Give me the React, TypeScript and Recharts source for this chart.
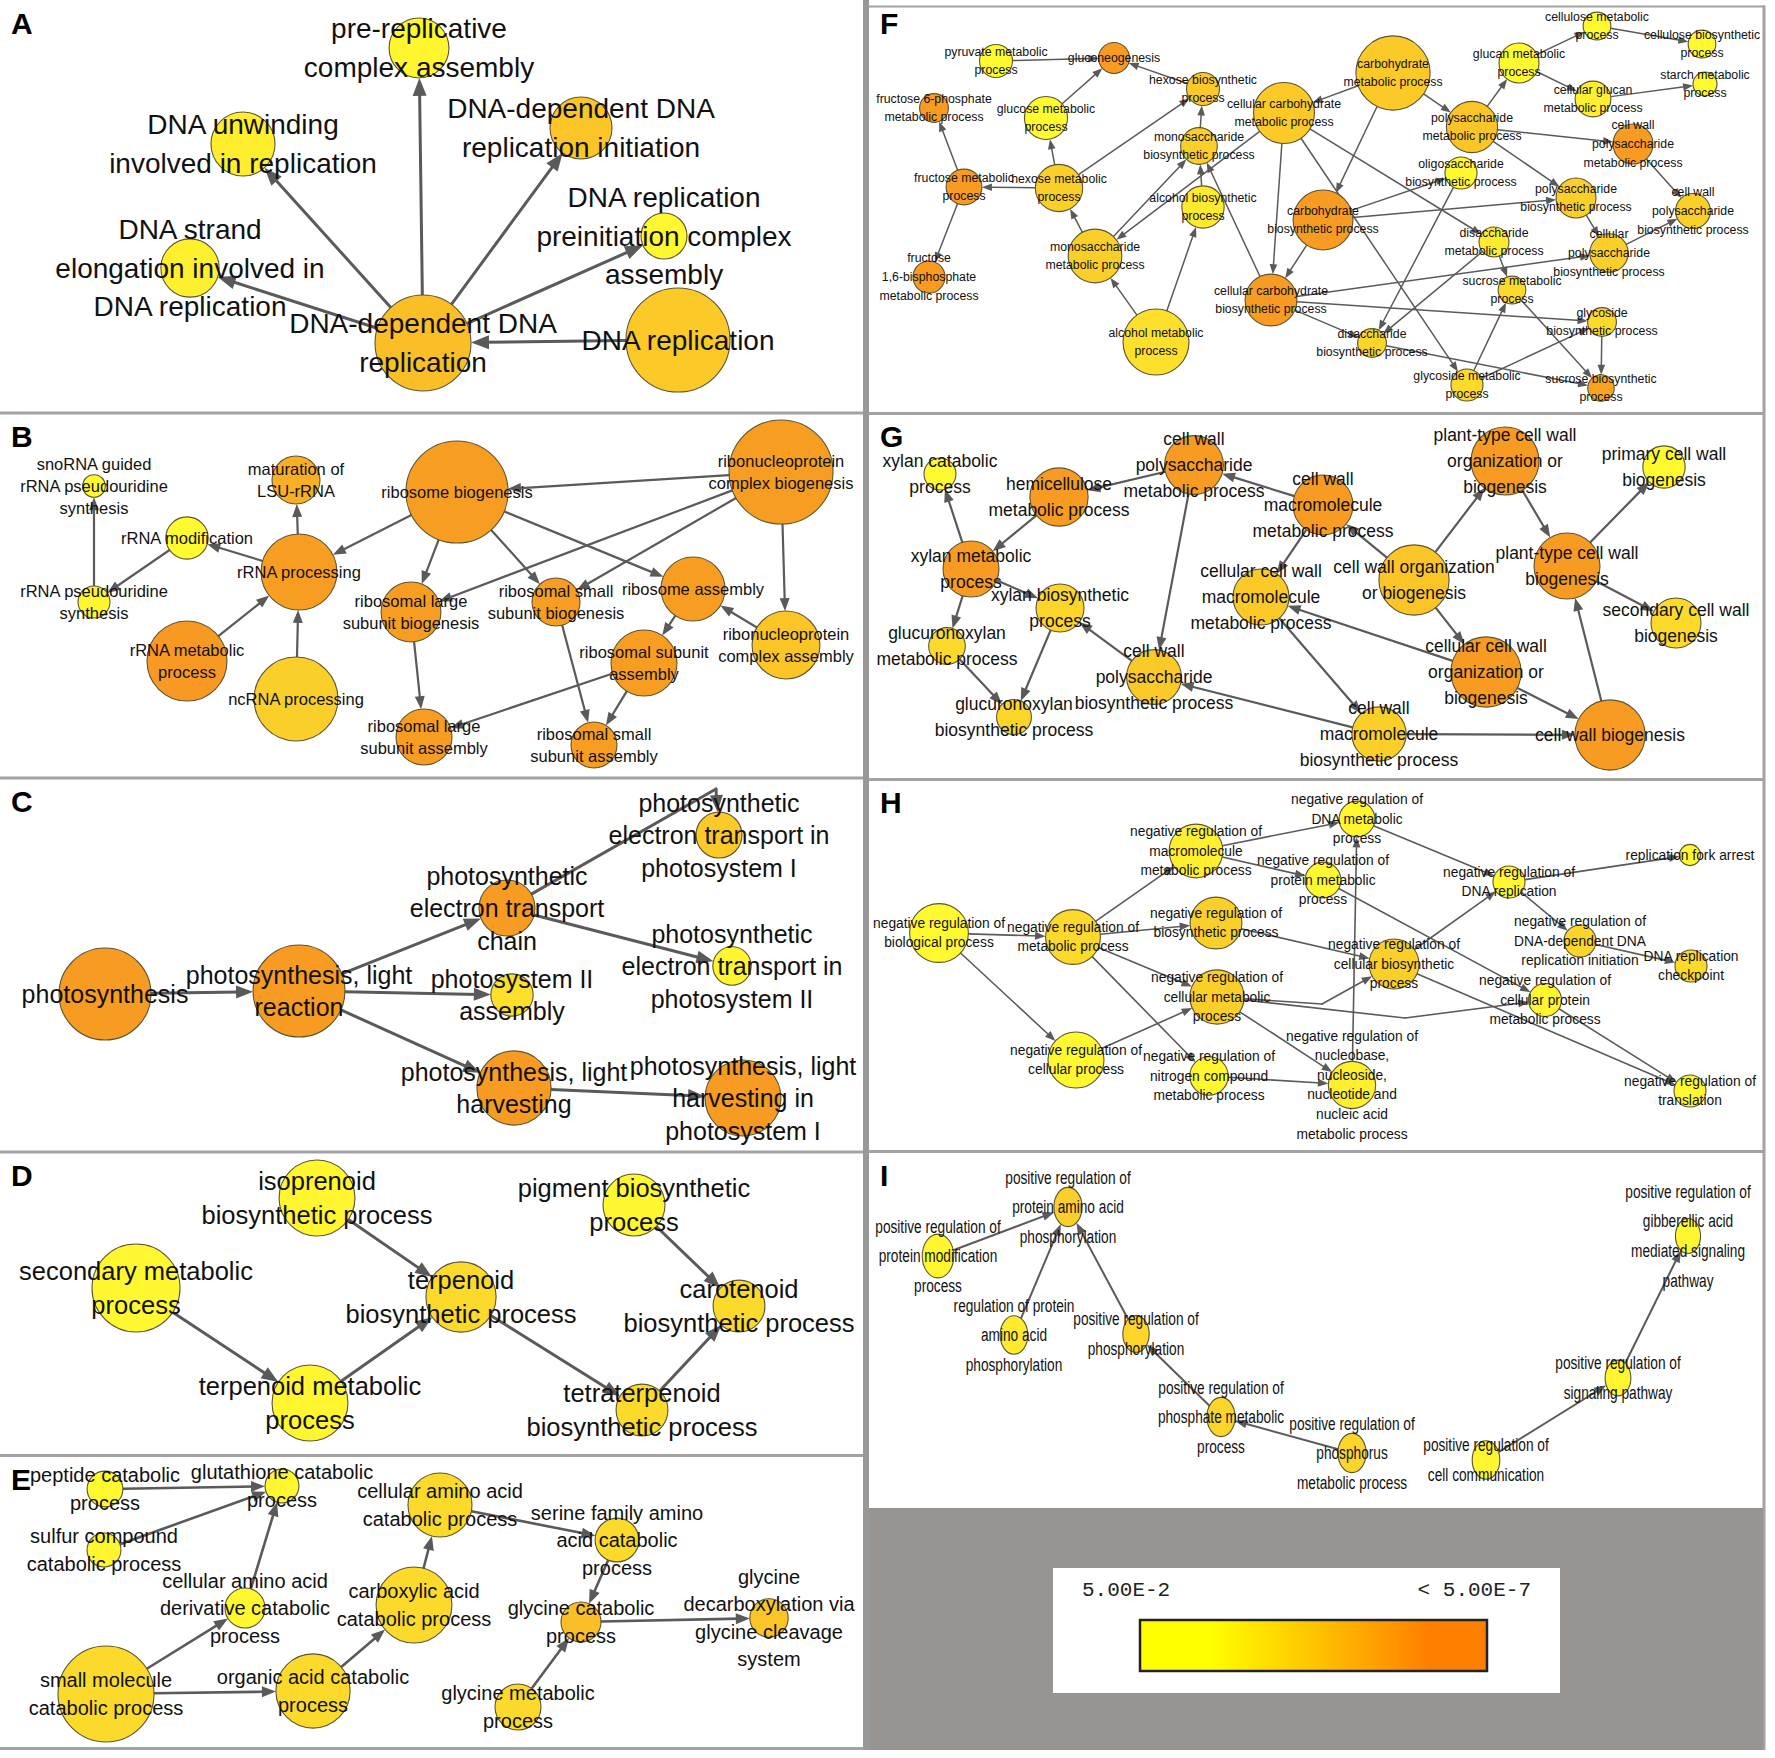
import React from 'react';
import { ScatterChart, Scatter, XAxis, YAxis, ReferenceLine, ReferenceArea } from 'recharts';

type GoTerm = { id: string; label: string; x: number; y: number; genes: number; logP: number };
type Link = [string, string] | [string, string, number, number];

// A: DNA replication
const panelANodes: GoTerm[] = [
  { id: 'a1', label: 'pre-replicative|complex assembly', x: 419, y: 48, genes: 56, logP: 1.55 },
  { id: 'a2', label: 'DNA unwinding|involved in replication', x: 243, y: 144, genes: 64, logP: 1.9 },
  { id: 'a3', label: 'DNA-dependent DNA|replication initiation', x: 581, y: 128, genes: 60, logP: 3.8 },
  { id: 'a4', label: 'DNA replication|preinitiation complex|assembly', x: 664, y: 236, genes: 33, logP: 1.45 },
  { id: 'a5', label: 'DNA strand|elongation involved in|DNA replication', x: 190, y: 268, genes: 53, logP: 1.8 },
  { id: 'a6', label: 'DNA-dependent DNA|replication', x: 423, y: 343, genes: 144, logP: 4.05 },
  { id: 'a7', label: 'DNA replication', x: 678, y: 340, genes: 169, logP: 3.55 },
];
const panelALinks: Link[] = [['a6', 'a1'], ['a6', 'a2'], ['a6', 'a3'], ['a6', 'a4'], ['a6', 'a5'], ['a7', 'a6']];

// B: ribosome biogenesis
const panelBNodes: GoTerm[] = [
  { id: 'b1', label: 'snoRNA guided|rRNA pseudouridine|synthesis', x: 94, y: 486, genes: 8, logP: 1.3 },
  { id: 'b2', label: 'maturation of|LSU-rRNA', x: 296, y: 480, genes: 36, logP: 4.8 },
  { id: 'b3', label: 'ribosome biogenesis', x: 457, y: 492, genes: 163, logP: 5.55 },
  { id: 'b4', label: 'ribonucleoprotein|complex biogenesis', x: 781, y: 472, genes: 169, logP: 5.55 },
  { id: 'b5', label: 'rRNA modification', x: 187, y: 538, genes: 28, logP: 1.3 },
  { id: 'b6', label: 'rRNA processing', x: 299, y: 572, genes: 90, logP: 5.55 },
  { id: 'b7', label: 'rRNA pseudouridine|synthesis', x: 94, y: 602, genes: 16, logP: 1.55 },
  { id: 'b8', label: 'rRNA metabolic|process', x: 187, y: 661, genes: 100, logP: 5.8 },
  { id: 'b9', label: 'ncRNA processing', x: 296, y: 699, genes: 110, logP: 3.3 },
  { id: 'b10', label: 'ribosomal large|subunit biogenesis', x: 411, y: 612, genes: 56, logP: 5.55 },
  { id: 'b11', label: 'ribosomal small|subunit biogenesis', x: 556, y: 602, genes: 36, logP: 5.55 },
  { id: 'b12', label: 'ribosome assembly', x: 693, y: 589, genes: 64, logP: 5.55 },
  { id: 'b13', label: 'ribonucleoprotein|complex assembly', x: 786, y: 645, genes: 72, logP: 3.8 },
  { id: 'b14', label: 'ribosomal subunit|assembly', x: 644, y: 663, genes: 68, logP: 5.55 },
  { id: 'b15', label: 'ribosomal large|subunit assembly', x: 424, y: 737, genes: 49, logP: 5.55 },
  { id: 'b16', label: 'ribosomal small|subunit assembly', x: 594, y: 745, genes: 33, logP: 5.55 },
];
const panelBLinks: Link[] = [
  ['b7', 'b1'], ['b5', 'b7'], ['b6', 'b5'], ['b6', 'b2'], ['b3', 'b6'], ['b4', 'b3'], ['b8', 'b6'], ['b9', 'b6'],
  ['b3', 'b10'], ['b3', 'b11'], ['b3', 'b12'], ['b4', 'b10'], ['b4', 'b11'], ['b4', 'b13'], ['b13', 'b12'],
  ['b12', 'b14'], ['b10', 'b15'], ['b14', 'b15'], ['b11', 'b16'], ['b14', 'b16'],
];

// C: photosynthesis
const panelCNodes: GoTerm[] = [
  { id: 'c1', label: 'photosynthesis', x: 105, y: 994, genes: 132, logP: 5.7 },
  { id: 'c2', label: 'photosynthesis, light|reaction', x: 299, y: 991, genes: 132, logP: 5.7 },
  { id: 'c3', label: 'photosynthetic|electron transport|chain', x: 507, y: 908, genes: 49, logP: 5.7 },
  { id: 'c4', label: 'photosynthetic|electron transport in|photosystem I', x: 719, y: 835, genes: 33, logP: 3.55 },
  { id: 'c5', label: 'photosynthetic|electron transport in|photosystem II', x: 732, y: 966, genes: 23, logP: 1.55 },
  { id: 'c6', label: 'photosystem II|assembly', x: 512, y: 995, genes: 28, logP: 2.55 },
  { id: 'c7', label: 'photosynthesis, light|harvesting', x: 514, y: 1088, genes: 86, logP: 5.7 },
  { id: 'c8', label: 'photosynthesis, light|harvesting in|photosystem I', x: 743, y: 1098, genes: 90, logP: 5.7 },
];
const panelCLinks: Link[] = [
  ['c1', 'c2'], ['c2', 'c3'], ['c2', 'c6'], ['c2', 'c7'], ['c3', 'c4', 716, 789], ['c3', 'c5'], ['c7', 'c8'],
];

// D: terpenoid biosynthesis
const panelDNodes: GoTerm[] = [
  { id: 'd1', label: 'isoprenoid|biosynthetic process', x: 317, y: 1198, genes: 90, logP: 1.55 },
  { id: 'd2', label: 'pigment biosynthetic|process', x: 634, y: 1205, genes: 60, logP: 1.45 },
  { id: 'd3', label: 'secondary metabolic|process', x: 136, y: 1288, genes: 121, logP: 1.45 },
  { id: 'd4', label: 'terpenoid|biosynthetic process', x: 461, y: 1297, genes: 77, logP: 2.8 },
  { id: 'd5', label: 'carotenoid|biosynthetic process', x: 739, y: 1306, genes: 42, logP: 2.8 },
  { id: 'd6', label: 'terpenoid metabolic|process', x: 310, y: 1403, genes: 90, logP: 1.55 },
  { id: 'd7', label: 'tetraterpenoid|biosynthetic process', x: 642, y: 1410, genes: 42, logP: 2.8 },
];
const panelDLinks: Link[] = [['d1', 'd4'], ['d3', 'd6'], ['d6', 'd4'], ['d4', 'd7'], ['d7', 'd5'], ['d2', 'd5']];

// E: catabolic processes
const panelENodes: GoTerm[] = [
  { id: 'e1', label: 'peptide catabolic|process', x: 105, y: 1489, genes: 20, logP: 1.4 },
  { id: 'e2', label: 'glutathione catabolic|process', x: 282, y: 1486, genes: 18, logP: 1.55 },
  { id: 'e3', label: 'sulfur compound|catabolic process', x: 104, y: 1550, genes: 18, logP: 1.55 },
  { id: 'e4', label: 'cellular amino acid|derivative catabolic|process', x: 245, y: 1608, genes: 25, logP: 1.45 },
  { id: 'e5', label: 'small molecule|catabolic process', x: 106, y: 1694, genes: 144, logP: 2.8 },
  { id: 'e6', label: 'organic acid catabolic|process', x: 313, y: 1691, genes: 86, logP: 2.8 },
  { id: 'e7', label: 'carboxylic acid|catabolic process', x: 414, y: 1605, genes: 90, logP: 2.8 },
  { id: 'e8', label: 'cellular amino acid|catabolic process', x: 440, y: 1505, genes: 64, logP: 2.8 },
  { id: 'e9', label: 'serine family amino|acid catabolic|process', x: 617, y: 1540, genes: 30, logP: 2.8 },
  { id: 'e10', label: 'glycine catabolic|process', x: 581, y: 1622, genes: 25, logP: 4.05 },
  { id: 'e11', label: 'glycine|decarboxylation via|glycine cleavage|system', x: 769, y: 1618, genes: 23, logP: 3.8 },
  { id: 'e12', label: 'glycine metabolic|process', x: 518, y: 1707, genes: 33, logP: 2.8 },
];
const panelELinks: Link[] = [
  ['e1', 'e2'], ['e3', 'e2'], ['e4', 'e2'], ['e5', 'e4'], ['e5', 'e6'], ['e6', 'e7'], ['e7', 'e8'],
  ['e8', 'e9'], ['e9', 'e10'], ['e12', 'e10'], ['e10', 'e11'],
];

// F: carbohydrate metabolism
const panelFNodes: GoTerm[] = [
  { id: 'f1', label: 'pyruvate metabolic|process', x: 996, y: 61, genes: 17, logP: 1.3 },
  { id: 'f2', label: 'gluconeogenesis', x: 1114, y: 58, genes: 15, logP: 5.7 },
  { id: 'f3', label: 'fructose 6-phosphate|metabolic process', x: 934, y: 108, genes: 13, logP: 5.7 },
  { id: 'f4', label: 'glucose metabolic|process', x: 1046, y: 118, genes: 29, logP: 1.4 },
  { id: 'f5', label: 'hexose biosynthetic|process', x: 1203, y: 89, genes: 17, logP: 3.55 },
  { id: 'f6', label: 'cellular carbohydrate|metabolic process', x: 1284, y: 113, genes: 58, logP: 3.55 },
  { id: 'f7', label: 'monosaccharide|biosynthetic process', x: 1199, y: 146, genes: 21, logP: 3.3 },
  { id: 'f8', label: 'fructose metabolic|process', x: 964, y: 187, genes: 20, logP: 5.7 },
  { id: 'f9', label: 'hexose metabolic|process', x: 1059, y: 188, genes: 35, logP: 3.3 },
  { id: 'f10', label: 'alcohol biosynthetic|process', x: 1203, y: 207, genes: 28, logP: 2.05 },
  { id: 'f11', label: 'monosaccharide|metabolic process', x: 1095, y: 256, genes: 45, logP: 3.3 },
  { id: 'f12', label: 'fructose|1,6-bisphosphate|metabolic process', x: 929, y: 277, genes: 16, logP: 5.7 },
  { id: 'f13', label: 'alcohol metabolic|process', x: 1156, y: 342, genes: 68, logP: 2.55 },
  { id: 'f14', label: 'cellular carbohydrate|biosynthetic process', x: 1271, y: 300, genes: 42, logP: 5.7 },
  { id: 'f15', label: 'carbohydrate|metabolic process', x: 1393, y: 73, genes: 86, logP: 3.55 },
  { id: 'f16', label: 'carbohydrate|biosynthetic process', x: 1323, y: 220, genes: 56, logP: 5.7 },
  { id: 'f17', label: 'glucan metabolic|process', x: 1519, y: 63, genes: 25, logP: 1.4 },
  { id: 'f18', label: 'cellulose metabolic|process', x: 1597, y: 26, genes: 12, logP: 1.4 },
  { id: 'f19', label: 'cellulose biosynthetic|process', x: 1702, y: 44, genes: 12, logP: 1.4 },
  { id: 'f20', label: 'starch metabolic|process', x: 1705, y: 84, genes: 9, logP: 1.4 },
  { id: 'f21', label: 'cellular glucan|metabolic process', x: 1593, y: 99, genes: 20, logP: 1.8 },
  { id: 'f22', label: 'polysaccharide|metabolic process', x: 1472, y: 127, genes: 41, logP: 3.8 },
  { id: 'f23', label: 'cell wall|polysaccharide|metabolic process', x: 1633, y: 144, genes: 25, logP: 5.7 },
  { id: 'f24', label: 'oligosaccharide|biosynthetic process', x: 1461, y: 173, genes: 16, logP: 1.4 },
  { id: 'f25', label: 'polysaccharide|biosynthetic process', x: 1576, y: 198, genes: 25, logP: 3.3 },
  { id: 'f26', label: 'cell wall|polysaccharide|biosynthetic process', x: 1693, y: 211, genes: 19, logP: 3.3 },
  { id: 'f27', label: 'disaccharide|metabolic process', x: 1494, y: 242, genes: 14, logP: 2.05 },
  { id: 'f28', label: 'cellular|polysaccharide|biosynthetic process', x: 1609, y: 253, genes: 23, logP: 3.3 },
  { id: 'f29', label: 'sucrose metabolic|process', x: 1512, y: 290, genes: 12, logP: 2.8 },
  { id: 'f30', label: 'glycoside|biosynthetic process', x: 1602, y: 322, genes: 13, logP: 2.8 },
  { id: 'f31', label: 'disaccharide|biosynthetic process', x: 1372, y: 343, genes: 13, logP: 3.05 },
  { id: 'f32', label: 'glycoside metabolic|process', x: 1467, y: 385, genes: 16, logP: 2.8 },
  { id: 'f33', label: 'sucrose biosynthetic|process', x: 1601, y: 388, genes: 11, logP: 5.3 },
];
const panelFLinks: Link[] = [
  ['f1', 'f2'], ['f4', 'f2'], ['f5', 'f2'], ['f8', 'f3'], ['f9', 'f8'], ['f8', 'f12'], ['f9', 'f4'], ['f9', 'f5'],
  ['f7', 'f5'], ['f11', 'f9'], ['f11', 'f7'], ['f10', 'f7'], ['f6', 'f11'], ['f13', 'f11'], ['f13', 'f10'],
  ['f14', 'f7'], ['f6', 'f14'], ['f16', 'f14'], ['f15', 'f6'], ['f15', 'f16'], ['f15', 'f22'], ['f6', 'f27'],
  ['f6', 'f32'], ['f22', 'f17'], ['f17', 'f18'], ['f18', 'f19'], ['f17', 'f21'], ['f21', 'f20'], ['f22', 'f23'],
  ['f22', 'f25'], ['f23', 'f26'], ['f25', 'f28'], ['f28', 'f26'], ['f16', 'f24'], ['f16', 'f25'], ['f14', 'f28'],
  ['f14', 'f30'], ['f14', 'f31'], ['f24', 'f31'], ['f27', 'f31'], ['f27', 'f29'], ['f32', 'f29'], ['f32', 'f30'],
  ['f29', 'f33'], ['f30', 'f33'], ['f31', 'f33'],
];

// G: cell wall
const panelGNodes: GoTerm[] = [
  { id: 'g1', label: 'xylan catabolic|process', x: 940, y: 474, genes: 16, logP: 1.4 },
  { id: 'g2', label: 'cell wall|polysaccharide|metabolic process', x: 1194, y: 465, genes: 54, logP: 5.7 },
  { id: 'g3', label: 'hemicellulose|metabolic process', x: 1059, y: 497, genes: 53, logP: 5.7 },
  { id: 'g4', label: 'cell wall|macromolecule|metabolic process', x: 1323, y: 505, genes: 56, logP: 5.7 },
  { id: 'g5', label: 'plant-type cell wall|organization or|biogenesis', x: 1505, y: 461, genes: 72, logP: 5.7 },
  { id: 'g6', label: 'primary cell wall|biogenesis', x: 1664, y: 467, genes: 28, logP: 1.4 },
  { id: 'g7', label: 'xylan metabolic|process', x: 971, y: 569, genes: 49, logP: 5.7 },
  { id: 'g8', label: 'cellular cell wall|macromolecule|metabolic process', x: 1261, y: 597, genes: 49, logP: 3.55 },
  { id: 'g9', label: 'cell wall organization|or biogenesis', x: 1414, y: 580, genes: 77, logP: 3.8 },
  { id: 'g10', label: 'plant-type cell wall|biogenesis', x: 1567, y: 566, genes: 68, logP: 5.7 },
  { id: 'g11', label: 'xylan biosynthetic|process', x: 1060, y: 608, genes: 36, logP: 3.05 },
  { id: 'g12', label: 'secondary cell wall|biogenesis', x: 1676, y: 623, genes: 39, logP: 2.8 },
  { id: 'g13', label: 'glucuronoxylan|metabolic process', x: 947, y: 646, genes: 21, logP: 2.8 },
  { id: 'g14', label: 'cell wall|polysaccharide|biosynthetic process', x: 1154, y: 677, genes: 47, logP: 3.55 },
  { id: 'g15', label: 'cellular cell wall|organization or|biogenesis', x: 1486, y: 672, genes: 77, logP: 5.7 },
  { id: 'g16', label: 'glucuronoxylan|biosynthetic process', x: 1014, y: 717, genes: 19, logP: 3.05 },
  { id: 'g17', label: 'cell wall|macromolecule|biosynthetic process', x: 1379, y: 734, genes: 46, logP: 3.3 },
  { id: 'g18', label: 'cell wall biogenesis', x: 1610, y: 735, genes: 77, logP: 5.7 },
];
const panelGLinks: Link[] = [
  ['g7', 'g1'], ['g3', 'g7'], ['g2', 'g3'], ['g4', 'g2'], ['g2', 'g14'], ['g4', 'g8'], ['g9', 'g4'], ['g9', 'g5'],
  ['g5', 'g10'], ['g10', 'g6'], ['g10', 'g12'], ['g9', 'g15'], ['g15', 'g8'], ['g15', 'g18'], ['g18', 'g10'],
  ['g17', 'g18'], ['g8', 'g17'], ['g17', 'g14'], ['g14', 'g11'], ['g7', 'g11'], ['g7', 'g13'], ['g13', 'g16'],
  ['g11', 'g16'],
];

// H: negative regulation
const panelHNodes: GoTerm[] = [
  { id: 'h1', label: 'negative regulation of|biological process', x: 939, y: 933, genes: 54, logP: 1.4 },
  { id: 'h2', label: 'negative regulation of|metabolic process', x: 1073, y: 937, genes: 47, logP: 2.8 },
  { id: 'h3', label: 'negative regulation of|macromolecule|metabolic process', x: 1196, y: 851, genes: 45, logP: 1.8 },
  { id: 'h4', label: 'negative regulation of|biosynthetic process', x: 1216, y: 923, genes: 42, logP: 3.3 },
  { id: 'h5', label: 'negative regulation of|cellular metabolic|process', x: 1217, y: 997, genes: 46, logP: 3.3 },
  { id: 'h6', label: 'negative regulation of|cellular process', x: 1076, y: 1060, genes: 49, logP: 1.45 },
  { id: 'h7', label: 'negative regulation of|nitrogen compound|metabolic process', x: 1209, y: 1076, genes: 23, logP: 1.55 },
  { id: 'h8', label: 'negative regulation of|protein metabolic|process', x: 1323, y: 880, genes: 20, logP: 1.45 },
  { id: 'h9', label: 'negative regulation of|DNA metabolic|process', x: 1357, y: 819, genes: 20, logP: 1.55 },
  { id: 'h10', label: 'negative regulation of|DNA replication', x: 1509, y: 882, genes: 16, logP: 1.45 },
  { id: 'h11', label: 'replication fork arrest', x: 1690, y: 855, genes: 7, logP: 1.45 },
  { id: 'h12', label: 'negative regulation of|DNA-dependent DNA|replication initiation', x: 1580, y: 941, genes: 16, logP: 3.05 },
  { id: 'h13', label: 'DNA replication|checkpoint', x: 1691, y: 966, genes: 16, logP: 2.8 },
  { id: 'h14', label: 'negative regulation of|cellular biosynthetic|process', x: 1394, y: 964, genes: 39, logP: 3.3 },
  { id: 'h15', label: 'negative regulation of|cellular protein|metabolic process', x: 1545, y: 1000, genes: 17, logP: 1.55 },
  { id: 'h16', label: 'negative regulation of|nucleobase,|nucleoside,|nucleotide and|nucleic acid|metabolic process', x: 1352, y: 1085, genes: 35, logP: 1.8 },
  { id: 'h17', label: 'negative regulation of|translation', x: 1690, y: 1091, genes: 16, logP: 1.45 },
];
const panelHLinks: Link[] = [
  ['h1', 'h2'], ['h1', 'h6'], ['h2', 'h3'], ['h2', 'h4'], ['h2', 'h5'], ['h2', 'h7'], ['h6', 'h5'], ['h3', 'h9'],
  ['h3', 'h8'], ['h4', 'h14'], ['h5', 'h14', 1322, 1004], ['h5', 'h15', 1405, 1018], ['h5', 'h16'], ['h7', 'h16'],
  ['h16', 'h9'], ['h8', 'h15'], ['h9', 'h10'], ['h14', 'h10'], ['h10', 'h11'], ['h10', 'h12'], ['h12', 'h13'],
  ['h14', 'h17'], ['h15', 'h17'],
];

// I: positive regulation
const panelINodes: GoTerm[] = [
  { id: 'i1', label: 'positive regulation of|protein amino acid|phosphorylation', x: 1068, y: 1207, genes: 24, logP: 3.3 },
  { id: 'i2', label: 'positive regulation of|protein modification|process', x: 938, y: 1256, genes: 30, logP: 1.55 },
  { id: 'i3', label: 'regulation of protein|amino acid|phosphorylation', x: 1014, y: 1335, genes: 23, logP: 2.05 },
  { id: 'i4', label: 'positive regulation of|phosphorylation', x: 1136, y: 1334, genes: 21, logP: 3.05 },
  { id: 'i5', label: 'positive regulation of|phosphate metabolic|process', x: 1221, y: 1417, genes: 24, logP: 3.05 },
  { id: 'i6', label: 'positive regulation of|phosphorus|metabolic process', x: 1352, y: 1453, genes: 24, logP: 3.05 },
  { id: 'i7', label: 'positive regulation of|cell communication', x: 1486, y: 1460, genes: 23, logP: 1.55 },
  { id: 'i8', label: 'positive regulation of|signaling pathway', x: 1618, y: 1378, genes: 20, logP: 1.55 },
  { id: 'i9', label: 'positive regulation of|gibberellic acid|mediated signaling|pathway', x: 1688, y: 1236, genes: 19, logP: 1.55 },
];
const panelILinks: Link[] = [['i2', 'i1'], ['i3', 'i1'], ['i4', 'i1'], ['i5', 'i4'], ['i6', 'i5'], ['i7', 'i8'], ['i8', 'i9']];

const legendTicks = ['5.00E-2', '< 5.00E-7'];

// ---- layout / styling ----
const W = 1775;
const H = 1758;
const FONT = '"Liberation Sans", Arial, Helvetica, sans-serif';
const EDGE = '#5a5a5a';
const BORDER = '#a2a2a2';

const panelStyle: Record<string, { font: number; lh: number; edge: number; aL: number; aW: number; squash: number }> = {
  A: { font: 28, lh: 38.5, edge: 3, aL: 18, aW: 7, squash: 1 },
  B: { font: 16.5, lh: 21.7, edge: 2.2, aL: 13, aW: 5, squash: 1 },
  C: { font: 25, lh: 32.5, edge: 3, aL: 17, aW: 6.5, squash: 1 },
  D: { font: 25.5, lh: 33.5, edge: 3, aL: 17, aW: 6.5, squash: 1 },
  E: { font: 20, lh: 27.5, edge: 2.6, aL: 14, aW: 5.5, squash: 1 },
  F: { font: 12.3, lh: 18.7, edge: 1.5, aL: 10, aW: 3.8, squash: 1 },
  G: { font: 17.5, lh: 26, edge: 2.2, aL: 13, aW: 5, squash: 1 },
  H: { font: 13.8, lh: 19.6, edge: 1.6, aL: 10.5, aW: 4, squash: 1 },
  I: { font: 19, lh: 29.7, edge: 2, aL: 12, aW: 4.5, squash: 0.72 },
};

const panels = [
  { key: 'A', x: 0, y: 0, nodes: panelANodes, links: panelALinks },
  { key: 'B', x: 0, y: 413, nodes: panelBNodes, links: panelBLinks },
  { key: 'C', x: 0, y: 778, nodes: panelCNodes, links: panelCLinks },
  { key: 'D', x: 0, y: 1152, nodes: panelDNodes, links: panelDLinks },
  { key: 'E', x: 0, y: 1456, nodes: panelENodes, links: panelELinks },
  { key: 'F', x: 869, y: 0, nodes: panelFNodes, links: panelFLinks },
  { key: 'G', x: 869, y: 413, nodes: panelGNodes, links: panelGLinks },
  { key: 'H', x: 869, y: 779, nodes: panelHNodes, links: panelHLinks },
  { key: 'I', x: 869, y: 1152, nodes: panelINodes, links: panelILinks },
];

// separators between the panels [x1, x2, y1, y2]
const frameBars: [number, number, number, number][] = [
  [0, 864, 411.5, 414.5], [0, 864, 776.5, 779.5], [0, 864, 1150.5, 1153.5], [0, 864, 1454, 1457], [0, 864, 1747, 1750],
  [869, 1765, 5.5, 7.5], [869, 1765, 412, 415], [869, 1765, 778, 781], [869, 1765, 1150, 1153],
  [1762.5, 1765.5, 5.5, 1750],
];

type PNode = GoTerm & { panel: string };
const allNodes: PNode[] = panels.flatMap((p) => p.nodes.map((n) => ({ ...n, panel: p.key })));
const byId: Record<string, PNode> = Object.fromEntries(allNodes.map((n) => [n.id, n]));

const radius = (genes: number) => 4 * Math.sqrt(genes);

function pColor(logP: number) {
  const t = Math.max(0, Math.min(1, (logP - 1.3) / 5));
  const lo = [255, 251, 48];
  const hi = [246, 142, 32];
  const c = lo.map((v, i) => Math.round(v + (hi[i] - v) * t));
  return `rgb(${c[0]},${c[1]},${c[2]})`;
}

// distance from node centre to its outline along a unit direction
function reach(n: PNode | undefined, ux: number, uy: number) {
  if (!n) return 0;
  const r = radius(n.genes);
  const rx = r * panelStyle[n.panel].squash;
  return 1 / Math.sqrt((ux / rx) ** 2 + (uy / r) ** 2);
}

type Seg = { key: string; panel: string; ax: number; ay: number; bx: number; by: number; from?: PNode; to?: PNode; arrow: boolean };
const segments: Seg[] = [];
panels.forEach((p) => {
  p.links.forEach((l, i) => {
    const s = byId[l[0]];
    const t = byId[l[1]];
    if (l.length === 4) {
      segments.push({ key: `${p.key}${i}a`, panel: p.key, ax: s.x, ay: s.y, bx: l[2], by: l[3], from: s, arrow: false });
      segments.push({ key: `${p.key}${i}b`, panel: p.key, ax: l[2], ay: l[3], bx: t.x, by: t.y, to: t, arrow: true });
    } else {
      segments.push({ key: `${p.key}${i}`, panel: p.key, ax: s.x, ay: s.y, bx: t.x, by: t.y, from: s, to: t, arrow: true });
    }
  });
});

const edgeShape = (seg: Seg) => (props: any) => {
  const st = panelStyle[seg.panel];
  const x1 = Number(props.x1), y1 = Number(props.y1), x2 = Number(props.x2), y2 = Number(props.y2);
  const len = Math.hypot(x2 - x1, y2 - y1) || 1;
  const ux = (x2 - x1) / len;
  const uy = (y2 - y1) / len;
  const ra = reach(seg.from, ux, uy);
  const rb = reach(seg.to, ux, uy);
  const sx = x1 + ux * ra, sy = y1 + uy * ra;
  const tx = x2 - ux * rb, ty = y2 - uy * rb;
  const ex = seg.arrow ? tx - ux * st.aL * 0.7 : tx;
  const ey = seg.arrow ? ty - uy * st.aL * 0.7 : ty;
  const bx = tx - ux * st.aL, by = ty - uy * st.aL;
  const nx = -uy * st.aW, ny = ux * st.aW;
  return (
    <g>
      <line x1={sx} y1={sy} x2={ex} y2={ey} stroke={EDGE} strokeWidth={st.edge} strokeLinecap="round" />
      {seg.arrow && (
        <polygon points={`${tx},${ty} ${bx + nx},${by + ny} ${bx - nx},${by - ny}`} fill={EDGE} />
      )}
    </g>
  );
};

const NodeShape = (props: any) => {
  const { cx, cy, payload } = props;
  const r = radius(payload.genes);
  return (
    <ellipse cx={cx} cy={cy} rx={r * panelStyle[payload.panel].squash} ry={r}
      fill={pColor(payload.logP)} stroke="#5e5430" strokeWidth={1.1} />
  );
};

const LabelShape = (props: any) => {
  const { cx, cy, payload } = props;
  const st = panelStyle[payload.panel];
  const lines: string[] = payload.label.split('|');
  return (
    <g>
      {lines.map((ln, i) => (
        <text key={i} transform={`translate(${cx},${cy + (i - (lines.length - 1) / 2) * st.lh}) scale(${st.squash},1)`}
          textAnchor="middle" dominantBaseline="central" fontFamily={FONT} fontSize={st.font} fill="#111">
          {ln}
        </text>
      ))}
    </g>
  );
};

const letterData = panels.map((p) => ({ x: p.x + 11, y: p.y + 34, text: p.key }));
const LetterShape = (props: any) => (
  <text x={props.cx} y={props.cy} fontFamily={FONT} fontWeight="bold" fontSize={30} fill="#000">
    {props.payload.text}
  </text>
);

const legendData = [
  { x: 1082, y: 1590, text: legendTicks[0], anchor: 'start' },
  { x: 1531, y: 1590, text: legendTicks[1], anchor: 'end' },
];
const LegendText = (props: any) => (
  <text x={props.cx} y={props.cy} textAnchor={props.payload.anchor} dominantBaseline="central"
    fontFamily='"Liberation Mono", "DejaVu Sans Mono", monospace' fontSize={21} fill="#222">
    {props.payload.text}
  </text>
);

const gradientBar = (p: any) => (
  <g>
    <defs>
      <linearGradient id="pvalGrad" x1="0" x2="1" y1="0" y2="0">
        <stop offset="0" stopColor="#ffff00" />
        <stop offset="0.2" stopColor="#ffff00" />
        <stop offset="0.5" stopColor="#ffc400" />
        <stop offset="0.83" stopColor="#ff8000" />
        <stop offset="1" stopColor="#ff7f00" />
      </linearGradient>
    </defs>
    <rect x={p.x} y={p.y} width={p.width} height={p.height} fill="url(#pvalGrad)" stroke="#222" strokeWidth={2.5} />
  </g>
);

export default function App() {
  return (
    <div style={{ position: 'absolute', left: 0, top: 0, width: W, height: H, background: '#fff' }}>
      <ScatterChart width={W} height={H} margin={{ top: 0, right: 0, bottom: 0, left: 0 }}>
        <XAxis type="number" dataKey="x" domain={[0, W]} hide allowDataOverflow />
        <YAxis type="number" dataKey="y" domain={[0, H]} reversed hide allowDataOverflow />

        {frameBars.map((b, i) => (
          <ReferenceArea key={`bar${i}`} x1={b[0]} x2={b[1]} y1={b[2]} y2={b[3]} fill={BORDER} fillOpacity={1} stroke="none" />
        ))}
        <ReferenceArea x1={863} x2={869} y1={0} y2={1750} fill="#989898" fillOpacity={1} stroke="none" />
        <ReferenceArea x1={869} x2={1763} y1={1508} y2={1750} fill="#979492" fillOpacity={1} stroke="none" />
        <ReferenceArea x1={1053} x2={1560} y1={1568} y2={1693} fill="#ffffff" fillOpacity={1} stroke="none" />
        <ReferenceArea x1={1140} x2={1487} y1={1620} y2={1671} shape={gradientBar} />

        {segments.map((s) => (
          <ReferenceLine key={s.key} segment={[{ x: s.ax, y: s.ay }, { x: s.bx, y: s.by }]} shape={edgeShape(s)} />
        ))}

        <Scatter data={allNodes} shape={NodeShape} isAnimationActive={false} />
        <Scatter data={allNodes} shape={LabelShape} isAnimationActive={false} />
        <Scatter data={letterData} shape={LetterShape} isAnimationActive={false} />
        <Scatter data={legendData} shape={LegendText} isAnimationActive={false} />
      </ScatterChart>
    </div>
  );
}
